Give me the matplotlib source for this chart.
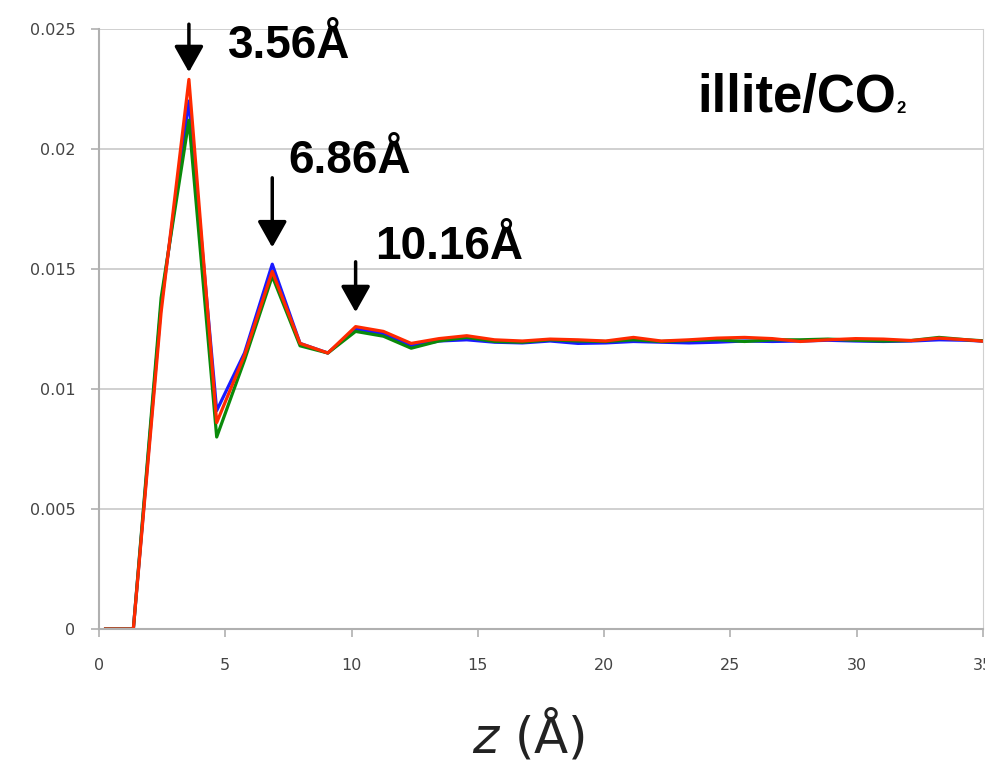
import matplotlib.pyplot as plt

z = [0.26, 1.36, 2.46, 3.56, 4.66, 5.76, 6.86, 7.96, 9.06, 10.16, 11.26, 12.36, 13.46,
     14.56, 15.66, 16.76, 17.86, 18.96, 20.06, 21.16, 22.26, 23.36, 24.46, 25.56, 26.66,
     27.76, 28.86, 29.96, 31.06, 32.16, 33.26, 34.36, 35.46]

blue = [0, 0, 0.0135, 0.0220, 0.0091, 0.0115, 0.0152, 0.0119, 0.0115, 0.0125, 0.0123, 0.0118, 0.0120,
        0.01205, 0.01195, 0.01192, 0.01200, 0.01190, 0.01192, 0.01198, 0.01195, 0.01192, 0.01195,
        0.01200, 0.01198, 0.01200, 0.01203, 0.01200, 0.01198, 0.01200, 0.01205, 0.01203, 0.01197]
green = [0, 0, 0.0138, 0.0212, 0.0080, 0.0112, 0.0147, 0.0118, 0.0115, 0.0124, 0.0122, 0.0117, 0.0120,
         0.01215, 0.01198, 0.01195, 0.01205, 0.01200, 0.01198, 0.01205, 0.01198, 0.01202, 0.01205,
         0.01198, 0.01205, 0.01205, 0.01208, 0.01203, 0.01200, 0.01202, 0.01215, 0.01205, 0.01198]
red = [0, 0, 0.0132, 0.0229, 0.0086, 0.0114, 0.0149, 0.0119, 0.0115, 0.0126, 0.0124, 0.0119, 0.0121,
       0.01222, 0.01205, 0.01200, 0.01208, 0.01205, 0.01200, 0.01215, 0.01200, 0.01205, 0.01212,
       0.01215, 0.01210, 0.01198, 0.01205, 0.01210, 0.01208, 0.01202, 0.01212, 0.01205, 0.01195]

# peak labels: text, arrow x, arrow tail y, arrow tip y, text x, text y
peaks = [("3.56Å", 3.56, 0.0252, 0.0232, 5.1, 0.0238),
         ("6.86Å", 6.86, 0.0188, 0.0159, 7.5, 0.0190),
         ("10.16Å", 10.16, 0.0153, 0.0132, 10.95, 0.0154)]

fig = plt.figure(figsize=(9.85, 7.63), dpi=100)
ax = fig.add_axes([0.1005, 0.1756, 0.8975, 0.7864])

ax.plot(z, blue, color="#1a1aff", lw=2.3)
ax.plot(z, green, color="#0a8a0a", lw=2.3)
ax.plot(z, red, color="#ff2a00", lw=2.3)

ax.set_xlim(0, 35)
ax.set_ylim(0, 0.025)
ax.set_xticks([0, 5, 10, 15, 20, 25, 30, 35])
ax.set_yticks([0, 0.005, 0.01, 0.015, 0.02, 0.025])
ax.set_yticklabels(["0", "0.005", "0.01", "0.015", "0.02", "0.025"])
ax.grid(axis="y", color="#c8c8c8", lw=1.2)
ax.set_axisbelow(True)
for s in ["left", "bottom"]:
    ax.spines[s].set_color("#b0b0b0")
    ax.spines[s].set_linewidth(1.5)
ax.spines["top"].set_visible(False)
ax.spines["right"].set_color("#d0d0d0")
ax.tick_params(axis="both", color="#b0b0b0", length=6, width=1.2,
               labelsize=11.5, labelcolor="#444444")
ax.tick_params(axis="x", pad=15)
ax.tick_params(axis="y", pad=11)

bold = ["Liberation Sans", "DejaVu Sans"]
for lab, xa, y0, y1, tx, ty in peaks:
    ax.annotate("", xy=(xa, y1), xytext=(xa, y0), annotation_clip=False,
                arrowprops=dict(arrowstyle="-|>,head_length=0.8,head_width=0.45",
                                lw=2.5, color="black", shrinkA=0, shrinkB=0,
                                mutation_scale=20))
    ax.text(tx, ty, lab, fontsize=33, fontweight="bold", va="baseline", family=bold)

t = ax.text(23.7, 0.02154, "illite/CO", fontsize=38, fontweight="bold",
            va="baseline", family=bold)
ax.annotate("2", xy=(1.0, 0.15), xycoords=t, fontsize=12, fontweight="bold",
            va="bottom", ha="left", family=bold)

fig.text(0.537, 0.037, r"$z$ (Å)", fontsize=36, ha="center", va="center", color="#222222")

fig.savefig("out.png", dpi=100)
